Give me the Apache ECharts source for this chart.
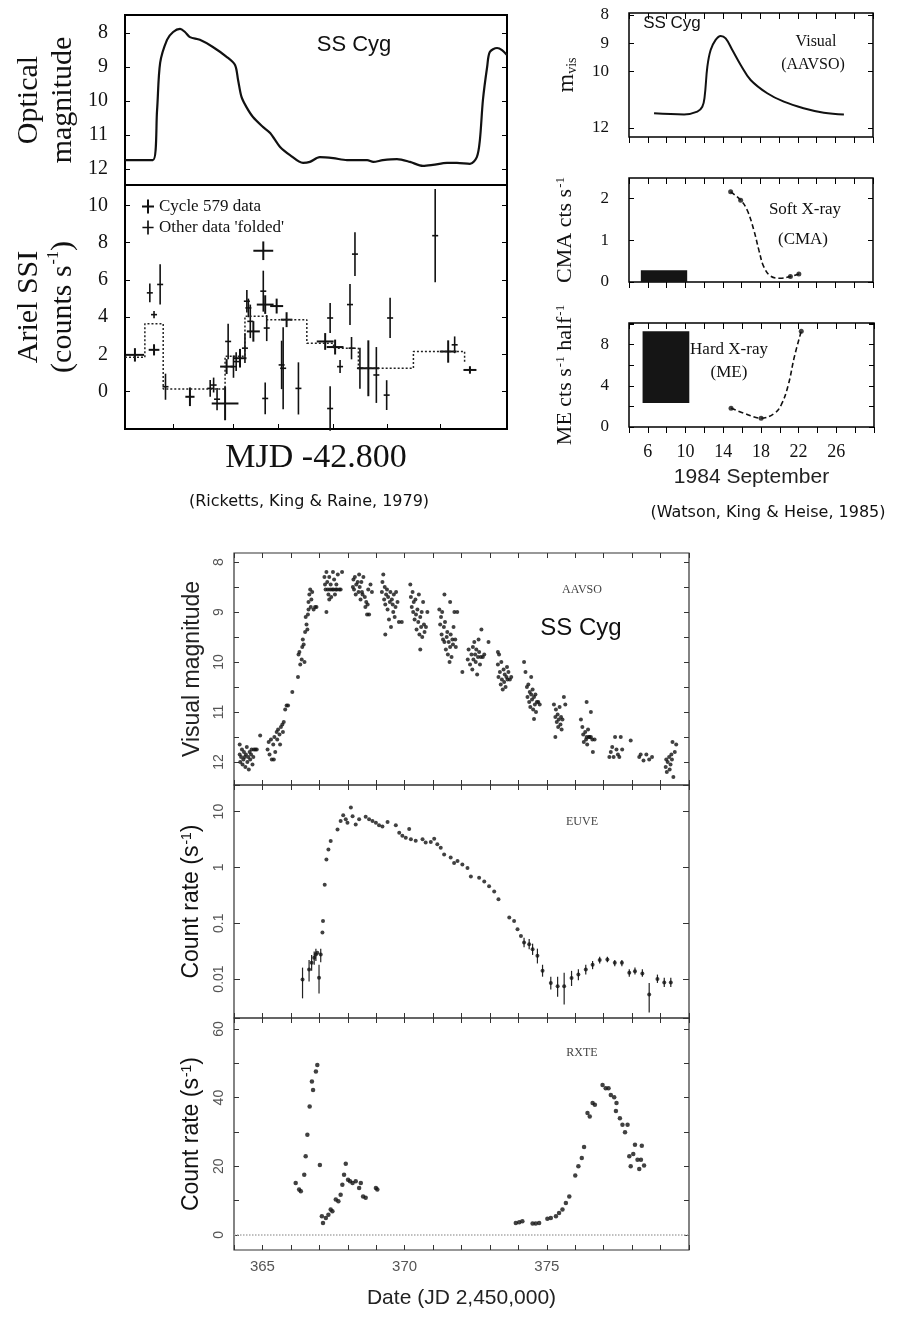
<!DOCTYPE html>
<html>
<head>
<meta charset="utf-8">
<script src="https://cdn.jsdelivr.net/npm/echarts@6/dist/echarts.min.js"></script>
<style>
html, body { margin: 0; padding: 0; background: #fff; }
#chart { width: 914px; height: 1318px; }
</style>
</head>
<body>
<div id="chart"></div>
<script>
const SERIF = "'Liberation Serif','DejaVu Serif',serif"
const SANS = "'Liberation Sans',Arial,sans-serif"
const HAND = "'DejaVu Sans',sans-serif"

// ---- Ricketts, King & Raine (1979): x in arbitrary phase units 0..100 ----
const opticalCurve = [
  [0, 11.74], [7.3, 11.74], [8.4, 10.26], [9.2, 8.88], [11, 8.2], [12.6, 7.97], [14.4, 7.88],
  [15.7, 7.97], [17, 8.12], [19.6, 8.2], [23, 8.41], [26.6, 8.7], [28.8, 8.94], [29.6, 9.38],
  [30.5, 9.88], [31.8, 10.18], [33.5, 10.47], [36.1, 10.76], [38, 10.94], [40.6, 11.35],
  [43.2, 11.59], [46.6, 11.82], [48.4, 11.79], [51, 11.65], [54.5, 11.68], [58.1, 11.74],
  [63.4, 11.74], [65, 11.79], [67.5, 11.74], [71.2, 11.71], [74.6, 11.79], [78, 11.91],
  [80.6, 11.88], [84.3, 11.82], [86.9, 11.82], [90.3, 11.85], [92.1, 11.65], [92.9, 11.15],
  [93.7, 9.97], [94.8, 9.0], [95.5, 8.56], [97.4, 8.44], [98.7, 8.5], [100, 8.65]
]
const optLabels = [8, 9, 10, 11, 12]

const arielStep = [
  [0, 1.85], [5.2, 3.65], [10, 0.15], [26.2, 1.9], [31.4, 4.05], [37.1, 3.87],
  [47.6, 2.61], [54.6, 2.34], [61.1, 1.26], [75.5, 2.16], [88.9, 1.6]
]
// [x, y, xerr, yerr]
const arielCycle = [
  [2.6, 1.98, 2.4, 0.36], [7.6, 2.25, 1.4, 0.3], [17.0, -0.27, 1.2, 0.5], [26.2, -0.63, 3.5, 0.9],
  [26.6, 1.35, 1.7, 0.4], [30.1, 1.8, 1.7, 0.5], [33.6, 3.24, 1.7, 0.55], [36.2, 7.57, 2.6, 0.5],
  [36.7, 4.68, 2.2, 0.5], [39.7, 4.6, 1.7, 0.4], [42.3, 3.87, 1.5, 0.4], [52.4, 2.7, 2.2, 0.45],
  [55.0, 2.4, 2.2, 0.4], [63.7, 1.26, 2.8, 1.5], [84.6, 2.16, 2.2, 0.6], [90.3, 1.17, 1.7, 0.2]
]
// [x, y, yerr]
const arielFolded = [
  [6.5, 5.31, 0.5], [7.6, 4.14, 0.2], [9.2, 5.76, 1.08], [10.6, 0.27, 0.7], [22.3, 0.18, 0.45],
  [23.2, 0.36, 0.4], [24.1, -0.4, 0.6], [27.0, 2.7, 0.95], [28.4, 1.35, 0.6], [29.1, 1.62, 0.5],
  [31.4, 2.34, 0.8], [31.9, 4.86, 0.6], [32.3, 4.5, 0.5], [32.8, 3.78, 0.9], [36.2, 5.4, 1.1],
  [37.1, 3.42, 0.7], [36.7, -0.36, 0.85], [41.4, 1.26, 2.2], [41.0, 1.44, 1.3], [45.4, 0.18, 1.4],
  [53.7, 3.96, 0.8], [53.7, -0.9, 1.2], [56.3, 1.35, 0.35], [58.9, 4.68, 1.1], [59.3, 2.34, 0.6],
  [60.2, 7.39, 1.17], [61.5, 1.26, 1.1], [65.8, 0.9, 1.5], [68.5, -0.18, 0.8], [69.4, 3.96, 1.08],
  [81.2, 8.38, 2.5], [86.3, 2.52, 0.45]
]
const arielLabels = [0, 2, 4, 6, 8, 10]
const arielXTicks = [12.6, 28.3, 40.1, 54.5, 68.6, 82.5]

// ---- Watson, King & Heise (1985): x = day of 1984 September ----
const visualCurve = [
  [6.67, 11.48], [9.87, 11.52], [11.28, 11.42], [11.81, 11.25], [12.06, 10.89], [12.35, 9.83],
  [12.7, 9.24], [13.23, 8.88], [13.77, 8.74], [14.3, 8.83], [15.01, 9.24], [15.9, 9.77],
  [16.96, 10.3], [18.73, 10.77], [20.5, 11.07], [22.6, 11.3], [24.76, 11.46], [26.9, 11.52]
]
const visLabels = [8, 9, 10, 12]
const cmaBlock = [[5.26, 10.2, 0, 0.28]]   // [x0, x1, y0, y1]
const cmaCurve = [
  [14.83, 2.15], [15.9, 1.95], [16.6, 1.71], [17.3, 1.24], [17.84, 0.76], [18.37, 0.36],
  [19.1, 0.14], [20.1, 0.09], [21.2, 0.13], [22.1, 0.19]
]
const cmaDots = [[14.83, 2.15], [15.9, 1.95], [21.2, 0.13], [22.1, 0.19]]
const cmaLabels = [0, 1, 2]
const meBlock = [[5.44, 10.4, 2.34, 9.3]]
const meCurve = [
  [14.83, 1.82], [16.25, 1.33], [18.02, 0.85], [19.44, 1.33], [20.15, 2.15], [20.86, 3.93],
  [21.56, 6.86], [22.28, 9.3]
]
const meDots = [[14.83, 1.82], [18.02, 0.85], [22.28, 9.3]]
const meLabels = [0, 4, 8]
const sepLabels = [6, 10, 14, 18, 22, 26]

// ---- AAVSO / EUVE / RXTE: x = JD - 2,450,000 ----
const aavso = [
  [364.20, 11.85], [364.22, 12.0], [364.25, 11.9], [364.28, 11.75], [364.30, 12.05], [364.33, 11.95],
  [364.35, 11.8], [364.38, 11.9], [364.40, 12.1], [364.42, 11.85], [364.45, 11.7], [364.47, 12.0],
  [364.50, 11.9], [364.52, 12.15], [364.55, 11.8], [364.57, 11.95], [364.60, 11.85], [364.62, 11.75],
  [364.65, 12.05], [364.68, 11.9], [364.70, 11.75], [364.75, 11.75], [364.80, 11.75], [364.20, 11.65],
  [364.92, 11.47],
  [365.18, 11.75], [365.22, 11.6], [365.25, 11.85], [365.30, 11.55], [365.33, 11.95], [365.38, 11.65],
  [365.42, 11.5], [365.45, 11.8], [365.50, 11.4], [365.52, 11.55], [365.55, 11.35], [365.60, 11.45],
  [365.62, 11.65], [365.65, 11.3], [365.70, 11.25], [365.72, 11.4], [365.75, 11.2], [365.40, 11.95],
  [365.80, 10.95], [365.85, 10.87], [365.90, 10.87], [366.05, 10.6],
  [366.25, 10.3], [366.27, 9.85], [366.30, 9.8], [366.33, 10.05], [366.38, 9.95], [366.40, 9.7],
  [366.42, 9.55], [366.45, 9.65], [366.48, 10.0], [366.50, 9.4], [366.52, 9.1], [366.55, 9.25],
  [366.58, 9.35], [366.60, 9.05], [366.62, 8.95],
  [366.62, 8.8], [366.65, 8.65], [366.68, 8.55], [366.70, 8.9], [366.72, 8.75], [366.75, 8.6],
  [366.80, 8.95], [366.85, 8.9], [366.90, 8.9],
  [367.18, 8.3], [367.20, 8.45], [367.22, 8.55], [367.25, 8.2], [367.28, 8.4], [367.30, 8.55],
  [367.32, 8.65], [367.35, 8.3], [367.38, 8.55], [367.40, 8.45], [367.42, 8.7], [367.45, 8.55],
  [367.48, 8.2], [367.50, 8.55], [367.52, 8.35], [367.55, 8.65], [367.58, 8.55], [367.60, 8.45],
  [367.62, 8.55], [367.65, 8.25], [367.70, 8.55], [367.75, 8.55], [367.80, 8.2], [367.25, 9.0],
  [367.35, 8.75],
  [368.18, 8.5], [368.20, 8.35], [368.22, 8.55], [368.25, 8.3], [368.28, 8.65], [368.30, 8.45],
  [368.35, 8.4], [368.38, 8.6], [368.40, 8.25], [368.42, 8.5], [368.45, 8.75], [368.48, 8.4],
  [368.50, 8.6], [368.52, 8.65], [368.55, 8.3], [368.60, 8.7], [368.62, 8.9], [368.65, 8.8],
  [368.68, 9.05], [368.70, 8.85], [368.72, 8.55], [368.75, 9.05], [368.80, 8.45], [368.85, 8.6],
  [369.20, 8.6], [369.22, 8.4], [369.25, 8.25], [369.28, 8.75], [369.30, 8.5], [369.32, 8.85],
  [369.35, 8.65], [369.38, 8.55], [369.40, 8.95], [369.42, 8.7], [369.45, 9.15], [369.48, 8.8],
  [369.50, 8.6], [369.52, 9.3], [369.55, 8.75], [369.58, 8.85], [369.60, 9.0], [369.62, 8.65],
  [369.65, 9.1], [369.68, 8.9], [369.70, 8.6], [369.75, 8.8], [369.80, 9.2], [369.90, 9.2],
  [369.32, 9.45],
  [370.20, 8.45], [370.22, 8.7], [370.25, 8.9], [370.28, 8.6], [370.30, 9.0], [370.32, 8.8],
  [370.35, 9.15], [370.38, 8.75], [370.40, 9.05], [370.42, 9.35], [370.45, 8.95], [370.48, 9.2],
  [370.50, 8.65], [370.52, 9.45], [370.55, 9.1], [370.58, 9.3], [370.60, 9.0], [370.62, 9.5],
  [370.65, 8.8], [370.68, 9.25], [370.70, 9.4], [370.75, 9.3], [370.55, 9.75], [370.80, 9.0],
  [371.22, 8.95], [371.25, 9.25], [371.28, 9.1], [371.30, 9.45], [371.32, 9.0], [371.35, 9.55],
  [371.38, 9.3], [371.40, 9.6], [371.42, 9.2], [371.45, 9.75], [371.48, 9.5], [371.50, 9.4],
  [371.52, 9.85], [371.55, 9.6], [371.58, 10.0], [371.60, 9.7], [371.62, 9.45], [371.65, 9.9],
  [371.68, 9.55], [371.70, 9.65], [371.72, 9.3], [371.75, 9.0], [371.78, 9.55], [371.80, 9.7],
  [371.85, 9.0], [371.40, 8.65], [371.60, 8.8], [372.03, 10.2],
  [372.22, 9.95], [372.25, 9.75], [372.30, 10.05], [372.35, 9.85], [372.38, 10.15], [372.40, 9.7],
  [372.42, 9.95], [372.45, 9.6], [372.48, 9.85], [372.50, 10.0], [372.52, 9.75], [372.55, 10.25],
  [372.58, 9.9], [372.60, 9.55], [372.62, 9.8], [372.65, 10.05], [372.68, 9.9], [372.70, 9.35],
  [372.75, 9.9], [372.80, 9.85], [372.95, 9.6],
  [373.28, 10.05], [373.30, 10.3], [373.32, 9.85], [373.35, 10.2], [373.38, 10.45], [373.40, 10.0],
  [373.42, 10.35], [373.45, 10.55], [373.48, 10.15], [373.50, 10.4], [373.52, 10.25], [373.55, 10.5],
  [373.58, 10.3], [373.60, 10.1], [373.62, 10.35], [373.65, 10.2], [373.70, 10.35], [373.75, 10.3],
  [373.28, 9.8],
  [374.20, 10.0], [374.25, 10.2], [374.30, 10.5], [374.32, 10.7], [374.35, 10.45], [374.38, 10.8],
  [374.40, 10.6], [374.42, 10.9], [374.45, 10.65], [374.48, 10.75], [374.50, 10.55], [374.52, 10.95],
  [374.55, 10.7], [374.58, 10.85], [374.60, 10.65], [374.62, 11.0], [374.65, 10.8], [374.70, 10.8],
  [374.75, 10.85], [374.55, 11.14], [374.45, 10.3],
  [375.25, 10.85], [375.30, 11.1], [375.32, 10.95], [375.35, 11.2], [375.38, 11.05], [375.40, 11.3],
  [375.42, 11.15], [375.45, 10.9], [375.48, 11.25], [375.50, 11.1], [375.52, 11.35], [375.55, 11.15],
  [375.60, 10.7], [375.65, 10.85], [375.30, 11.5],
  [376.20, 11.15], [376.25, 11.3], [376.28, 11.45], [376.30, 11.6], [376.35, 11.4], [376.38, 11.55],
  [376.40, 11.5], [376.42, 11.65], [376.45, 11.35], [376.48, 11.5], [376.50, 11.5], [376.55, 11.5],
  [376.60, 11.55], [376.62, 11.8], [376.68, 11.55], [376.40, 10.8], [376.55, 11.0],
  [377.20, 11.9], [377.25, 11.8], [377.30, 11.7], [377.35, 11.9], [377.40, 11.5], [377.45, 11.75],
  [377.50, 11.85], [377.55, 11.9], [377.60, 11.5], [377.65, 11.75],
  [377.95, 11.57], [378.25, 11.9], [378.30, 11.85], [378.40, 11.97], [378.50, 11.85], [378.60, 11.95],
  [378.70, 11.9],
  [379.18, 12.1], [379.20, 11.95], [379.22, 12.2], [379.25, 12.0], [379.30, 11.9], [379.32, 12.15],
  [379.35, 12.05], [379.38, 11.85], [379.40, 11.95], [379.42, 11.6], [379.45, 12.3], [379.50, 11.8],
  [379.55, 11.65]
]
const aavsoLabels = [8, 9, 10, 11, 12]
const aavsoTicks = [8, 8.5, 9, 9.5, 10, 10.5, 11, 11.5, 12]

const euve = [
  [366.41, 0.0098], [366.64, 0.0148], [366.73, 0.0195], [366.82, 0.024], [366.88, 0.0275],
  [366.93, 0.0295], [366.99, 0.0105], [367.05, 0.0275], [367.11, 0.068], [367.13, 0.11],
  [367.19, 0.49], [367.25, 1.38], [367.32, 2.1], [367.4, 2.96], [367.64, 4.8], [367.75, 6.8],
  [367.84, 8.6], [367.93, 7.3], [367.99, 6.3], [368.11, 11.8], [368.17, 8.3], [368.28, 5.9],
  [368.4, 7.3], [368.63, 8.1], [368.75, 7.3], [368.87, 6.8], [368.99, 6.3], [369.1, 5.7],
  [369.22, 5.4], [369.4, 6.5], [369.69, 5.7], [369.81, 4.2], [369.92, 3.7], [370.04, 3.4],
  [370.16, 4.9], [370.22, 3.2], [370.39, 3.0], [370.63, 3.2], [370.74, 2.8], [370.92, 2.85],
  [371.04, 3.25], [371.15, 2.6], [371.27, 2.25], [371.39, 1.7], [371.62, 1.5], [371.74, 1.2],
  [371.86, 1.3], [372.03, 1.13], [372.21, 0.98], [372.33, 0.69], [372.62, 0.65], [372.8, 0.56],
  [372.97, 0.46], [373.15, 0.37], [373.3, 0.27], [373.68, 0.126], [373.85, 0.11], [373.97, 0.078],
  [374.09, 0.059], [374.2, 0.045], [374.38, 0.042], [374.5, 0.034], [374.67, 0.026], [374.85, 0.014],
  [375.14, 0.0085], [375.38, 0.0074], [375.61, 0.0074], [375.87, 0.0104], [376.11, 0.012],
  [376.37, 0.0148], [376.61, 0.018], [376.86, 0.0218], [377.13, 0.0224], [377.39, 0.0195],
  [377.64, 0.0195], [377.9, 0.0129], [378.1, 0.0138], [378.36, 0.0126], [378.6, 0.0053],
  [378.89, 0.01], [379.13, 0.0087], [379.36, 0.0087]
]
// [day, low, high]
const euveBars = [
  [366.41, 0.0045, 0.016], [366.64, 0.009, 0.022], [366.73, 0.014, 0.027], [366.82, 0.018, 0.031],
  [366.88, 0.021, 0.035], [366.99, 0.0055, 0.018], [367.05, 0.02, 0.035], [374.2, 0.037, 0.055],
  [374.38, 0.034, 0.052], [374.5, 0.027, 0.043], [374.67, 0.019, 0.035], [374.85, 0.011, 0.018],
  [375.14, 0.0065, 0.011], [375.38, 0.0048, 0.011], [375.61, 0.0035, 0.013], [375.87, 0.0075, 0.014],
  [376.11, 0.0095, 0.015], [376.37, 0.012, 0.018], [376.61, 0.015, 0.021], [376.86, 0.019, 0.025],
  [377.13, 0.02, 0.025], [377.39, 0.017, 0.022], [377.64, 0.017, 0.022], [377.9, 0.011, 0.015],
  [378.1, 0.012, 0.016], [378.36, 0.011, 0.015], [378.6, 0.0025, 0.0085], [378.89, 0.0085, 0.012],
  [379.13, 0.0072, 0.0105], [379.36, 0.0072, 0.0105]
]

const rxte = [
  [366.17, 15.1], [366.29, 13.2], [366.35, 12.7], [366.47, 17.5], [366.52, 22.9], [366.58, 29.2],
  [366.66, 37.4], [366.74, 44.7], [366.78, 42.2], [366.88, 47.6], [366.93, 49.5], [367.02, 20.4],
  [367.09, 5.4], [367.13, 3.5], [367.23, 4.9], [367.32, 5.9], [367.4, 7.4], [367.46, 6.9],
  [367.58, 10.3], [367.67, 9.8], [367.75, 11.7], [367.81, 14.6], [367.87, 17.5], [367.93, 20.7],
  [368.01, 16.1], [368.08, 15.6], [368.17, 15.1], [368.28, 15.6], [368.4, 13.7], [368.46, 15.1],
  [368.54, 11.2], [368.63, 10.8], [368.99, 13.7], [369.04, 13.2],
  [373.91, 3.5], [374.03, 3.7], [374.14, 4.0], [374.5, 3.3], [374.61, 3.3], [374.73, 3.5],
  [375.02, 4.7], [375.14, 4.9], [375.32, 5.4], [375.43, 6.4], [375.55, 7.4], [375.67, 9.3],
  [375.79, 11.2], [376.0, 17.3], [376.11, 20.0], [376.23, 22.4], [376.31, 25.6], [376.43, 35.5],
  [376.51, 34.5], [376.61, 38.4], [376.69, 37.9], [376.96, 43.7], [377.07, 42.7], [377.17, 42.7],
  [377.25, 40.8], [377.37, 40.1], [377.45, 38.4], [377.43, 36.1], [377.57, 34.0], [377.66, 32.1],
  [377.75, 29.9], [377.84, 32.1], [377.9, 22.9], [377.95, 20.0], [378.04, 23.6], [378.1, 26.3],
  [378.19, 21.9], [378.25, 19.2], [378.31, 21.9], [378.34, 26.0], [378.42, 20.2]
]
const rxteLabels = [0, 20, 40, 60]
const rxteTicks = [0, 10, 20, 30, 40, 50, 60]
const jdLabels = [365, 370, 375]

// ---- layout ----
const grids = [
  { left: 125, top: 15, width: 382, height: 170, borderWidth: 2, borderColor: '#000' },
  { left: 125, top: 185, width: 382, height: 244, borderWidth: 2, borderColor: '#000' },
  { left: 629, top: 13, width: 244, height: 124, borderWidth: 1.5, borderColor: '#000' },
  { left: 629, top: 178, width: 244, height: 104, borderWidth: 1.5, borderColor: '#000' },
  { left: 629, top: 323, width: 245, height: 104, borderWidth: 1.5, borderColor: '#000' },
  { left: 234, top: 553, width: 455, height: 232, borderWidth: 1.2, borderColor: '#333' },
  { left: 234, top: 785, width: 455, height: 233, borderWidth: 1.2, borderColor: '#333' },
  { left: 234, top: 1018, width: 455, height: 232, borderWidth: 1.2, borderColor: '#333' }
].map(g => Object.assign({ show: true, backgroundColor: 'transparent', containLabel: false, outerBoundsMode: 'none' }, g))

function mkAxis(gi, position, o, mirror) {
  const a = {
    type: o.type || 'value', gridIndex: gi, position: position,
    min: o.min, max: o.max, inverse: !!o.inverse,
    axisLine: { show: false, onZero: false },
    splitLine: { show: false },
    axisTick: {
      show: !!o.tickLen,
      inside: mirror ? true : o.inside !== false,
      length: o.tickLen || 0,
      lineStyle: { color: o.color || '#000', width: 1 }
    },
    axisLabel: { show: !mirror && !!o.label }
  }
  if (o.interval != null) a.interval = o.interval
  if (o.ticks) a.axisTick.customValues = o.ticks
  if (!mirror && o.label) Object.assign(a.axisLabel, o.label)
  if (!mirror && o.name) {
    a.name = o.name
    a.nameLocation = 'middle'
    a.nameGap = o.nameGap
    a.nameTextStyle = o.nameStyle
    if (o.nameRotate != null) a.nameRotate = o.nameRotate
  }
  return a
}

const xAxes = [], yAxes = []
function addX(gi, o) {
  const i = xAxes.length
  xAxes.push(mkAxis(gi, 'bottom', o, false))
  if (o.mirror !== false) xAxes.push(mkAxis(gi, 'top', o, true))
  return i
}
function addY(gi, o) {
  const i = yAxes.length
  yAxes.push(mkAxis(gi, 'left', o, false))
  if (o.mirror !== false) yAxes.push(mkAxis(gi, 'right', o, true))
  return i
}

const supRich = (font, size, supSize) => ({
  t: { fontFamily: font, fontSize: size, color: '#111' },
  s: { fontFamily: font, fontSize: supSize, color: '#111', verticalAlign: 'top', padding: [0, 0, size * 0.45, 1] },
  b: { fontFamily: font, fontSize: supSize, color: '#111', verticalAlign: 'bottom' }
})

const tlLabel = { fontFamily: SERIF, fontSize: 20, color: '#111', margin: 17 }
const trLabel = { fontFamily: SERIF, fontSize: 17, color: '#111', margin: 20 }
const bYLabel = { fontFamily: SANS, fontSize: 14, color: '#555', rotate: 90, margin: 8 }
const bXLabel = { fontFamily: SANS, fontSize: 15, color: '#555', margin: 9 }

// top-left
const x0 = addX(0, { min: 0, max: 100, mirror: false })
const y0 = addY(0, {
  min: 7.47, max: 12.47, inverse: true, tickLen: 5, ticks: optLabels,
  label: Object.assign({ customValues: optLabels }, tlLabel),
  name: 'Optical\nmagnitude', nameGap: 45, nameRotate: 90,
  nameStyle: { fontFamily: SERIF, fontSize: 30, color: '#111', lineHeight: 34 }
})
const x1 = addX(1, {
  min: 0, max: 100, mirror: false, tickLen: 5, ticks: arielXTicks,
  name: 'MJD -42.800', nameGap: 12,
  nameStyle: { fontFamily: SERIF, fontSize: 34, color: '#111' }
})
const y1 = addY(1, {
  min: -2, max: 11.1, tickLen: 5, ticks: arielLabels,
  label: Object.assign({ customValues: arielLabels }, tlLabel),
  name: '{t|Ariel SSI}\n{t|(counts s}{s|-1}{t|)}', nameGap: 45, nameRotate: 90,
  nameStyle: { lineHeight: 34, rich: supRich(SERIF, 30, 16) }
})

// top-right
const sepAxis = { min: 4, max: 30, interval: 2, tickLen: 6, inside: false }
const x2 = addX(2, sepAxis)
const y2 = addY(2, {
  min: 7.93, max: 12.32, inverse: true, tickLen: 5, ticks: visLabels,
  label: Object.assign({ customValues: visLabels }, trLabel),
  name: '{t|m}{b|vis}', nameGap: 50, nameRotate: 90,
  nameStyle: { rich: supRich(SERIF, 24, 14) }
})
const x3 = addX(3, sepAxis)
const y3 = addY(3, {
  min: 0, max: 2.48, tickLen: 5, ticks: cmaLabels,
  label: Object.assign({ customValues: cmaLabels }, trLabel),
  name: '{t|CMA cts s}{s|-1}', nameGap: 52, nameRotate: 90,
  nameStyle: { rich: supRich(SERIF, 22, 13) }
})
const x4 = addX(4, Object.assign({}, sepAxis, {
  label: Object.assign({ customValues: sepLabels }, trLabel, { margin: 16, fontSize: 18 }),
  name: '1984 September', nameGap: 40,
  nameStyle: { fontFamily: SANS, fontSize: 21, color: '#222' }
}))
const y4 = addY(4, {
  min: 0, max: 10.1, interval: 2, tickLen: 5,
  label: Object.assign({ customValues: meLabels }, trLabel),
  name: '{t|ME cts s}{s|-1}{t| half}{s|-1}', nameGap: 52, nameRotate: 90,
  nameStyle: { rich: supRich(SERIF, 22, 13) }
})

// bottom figure
const jdAxis = { min: 364, max: 380, interval: 1, tickLen: 5, color: '#333' }
const x5 = addX(5, jdAxis)
const y5 = addY(5, {
  min: 7.82, max: 12.46, inverse: true, tickLen: 5, color: '#333', ticks: aavsoTicks,
  label: Object.assign({ customValues: aavsoLabels }, bYLabel),
  name: 'Visual magnitude', nameGap: 30, nameRotate: 90,
  nameStyle: { fontFamily: SANS, fontSize: 23, color: '#222' }
})
const x6 = addX(6, jdAxis)
const y6 = addY(6, {
  type: 'log', min: 0.002, max: 30, tickLen: 6, color: '#333',
  label: Object.assign({
    formatter: v => {
      const l = Math.log10(v)
      return Math.abs(l - Math.round(l)) < 1e-6 ? String(+v.toPrecision(1)) : ''
    }
  }, bYLabel),
  name: '{t|Count rate (s}{s|-1}{t|)}', nameGap: 30, nameRotate: 90,
  nameStyle: { rich: supRich(SANS, 23, 14) }
})
const x7 = addX(7, Object.assign({}, jdAxis, {
  label: Object.assign({ customValues: jdLabels }, bXLabel),
  name: 'Date (JD 2,450,000)', nameGap: 38,
  nameStyle: { fontFamily: SANS, fontSize: 21, color: '#222' }
}))
const y7 = addY(7, {
  min: -4.4, max: 63.2, tickLen: 5, color: '#333', ticks: rxteTicks,
  label: Object.assign({ customValues: rxteLabels }, bYLabel),
  name: '{t|Count rate (s}{s|-1}{t|)}', nameGap: 30, nameRotate: 90,
  nameStyle: { rich: supRich(SANS, 23, 14) }
})

// ---- renderers ----
function crossRender(width, withX) {
  return function (params, api) {
    const x = api.value(0), y = api.value(1)
    const xe = withX ? api.value(2) : 0
    const ye = withX ? api.value(3) : api.value(2)
    const c = api.coord([x, y])
    const lo = api.coord([x, y - ye]), hi = api.coord([x, y + ye])
    const l = withX ? api.coord([x - xe, y])[0] : c[0] - 3
    const r = withX ? api.coord([x + xe, y])[0] : c[0] + 3
    const style = { stroke: '#111', lineWidth: width }
    return {
      type: 'group',
      children: [
        { type: 'line', shape: { x1: c[0], y1: lo[1], x2: c[0], y2: hi[1] }, style },
        { type: 'line', shape: { x1: l, y1: c[1], x2: r, y2: c[1] }, style }
      ]
    }
  }
}

function blockRender(params, api) {
  const p0 = api.coord([api.value(0), api.value(3)])
  const p1 = api.coord([api.value(1), api.value(2)])
  return {
    type: 'rect',
    shape: { x: p0[0], y: p0[1], width: p1[0] - p0[0], height: p1[1] - p0[1] },
    style: { fill: '#151515' }
  }
}

function barRender(params, api) {
  const a = api.coord([api.value(0), api.value(1)])
  const b = api.coord([api.value(0), api.value(2)])
  return { type: 'line', shape: { x1: a[0], y1: a[1], x2: b[0], y2: b[1] }, style: { stroke: '#222', lineWidth: 1.2 } }
}

const dot = (xi, yi, data, size) => ({
  type: 'scatter', xAxisIndex: xi, yAxisIndex: yi, data: data,
  symbol: 'circle', symbolSize: size, itemStyle: { color: '#111' }, silent: true
})

const series = [
  {
    type: 'line', xAxisIndex: x0, yAxisIndex: y0, data: opticalCurve, smooth: 0.3,
    showSymbol: false, lineStyle: { color: '#111', width: 2.2 }
  },
  {
    type: 'line', xAxisIndex: x1, yAxisIndex: y1, data: arielStep, step: 'end',
    showSymbol: false, lineStyle: { color: '#222', width: 1.5, type: [2, 2] }
  },
  {
    name: 'Cycle 579 data', type: 'custom', xAxisIndex: x1, yAxisIndex: y1, data: arielCycle,
    encode: { x: 0, y: 1 }, renderItem: crossRender(2, true), itemStyle: { color: '#111' }
  },
  {
    name: "Other data 'folded'", type: 'custom', xAxisIndex: x1, yAxisIndex: y1, data: arielFolded,
    encode: { x: 0, y: 1 }, renderItem: crossRender(1.6, false), itemStyle: { color: '#111' }
  },
  {
    type: 'line', xAxisIndex: x2, yAxisIndex: y2, data: visualCurve, smooth: 0.4,
    showSymbol: false, lineStyle: { color: '#111', width: 2 }
  },
  {
    type: 'custom', xAxisIndex: x3, yAxisIndex: y3, data: cmaBlock,
    encode: { x: [0, 1], y: [2, 3] }, renderItem: blockRender
  },
  {
    type: 'line', xAxisIndex: x3, yAxisIndex: y3, data: cmaCurve, smooth: 0.4,
    showSymbol: false, lineStyle: { color: '#111', width: 1.6, type: [5, 3] }
  },
  dot(x3, y3, cmaDots, 5),
  {
    type: 'custom', xAxisIndex: x4, yAxisIndex: y4, data: meBlock,
    encode: { x: [0, 1], y: [2, 3] }, renderItem: blockRender
  },
  {
    type: 'line', xAxisIndex: x4, yAxisIndex: y4, data: meCurve, smooth: 0.4,
    showSymbol: false, lineStyle: { color: '#111', width: 1.6, type: [5, 3] }
  },
  dot(x4, y4, meDots, 5),
  dot(x5, y5, aavso, 4),
  {
    type: 'custom', xAxisIndex: x6, yAxisIndex: y6, data: euveBars,
    encode: { x: 0, y: [1, 2] }, renderItem: barRender
  },
  dot(x6, y6, euve, 4),
  Object.assign(dot(x7, y7, rxte, 4.5), {
    markLine: {
      silent: true, symbol: 'none', label: { show: false },
      lineStyle: { color: '#aaa', type: 'dotted', width: 1.5 },
      data: [{ yAxis: 0 }]
    }
  })
]

const txt = (x, y, text, font, color) => ({
  type: 'text', x: x, y: y, silent: true,
  style: { text: text, font: font, fill: color || '#111', align: 'center', verticalAlign: 'middle' }
})

const graphic = [
  txt(354, 45, 'SS Cyg', '22px ' + SANS),
  txt(309, 502, '(Ricketts, King & Raine, 1979)', '16px ' + HAND),
  txt(672, 23, 'SS Cyg', '17px ' + SANS),
  txt(816, 42, 'Visual', '16px ' + SERIF),
  txt(813, 65, '(AAVSO)', '16px ' + SERIF),
  txt(805, 210, 'Soft X-ray', '17px ' + SERIF),
  txt(803, 240, '(CMA)', '17px ' + SERIF),
  txt(729, 350, 'Hard X-ray', '17px ' + SERIF),
  txt(729, 373, '(ME)', '17px ' + SERIF),
  txt(768, 513, '(Watson, King & Heise, 1985)', '16px ' + HAND),
  txt(582, 590, 'AAVSO', '12px ' + SERIF, '#444'),
  txt(581, 628, 'SS Cyg', '24px ' + SANS),
  txt(582, 822, 'EUVE', '12px ' + SERIF, '#444'),
  txt(582, 1053, 'RXTE', '12px ' + SERIF, '#444')
]

const option = {
  animation: false,
  backgroundColor: '#fff',
  textStyle: { fontFamily: SANS },
  grid: grids,
  xAxis: xAxes,
  yAxis: yAxes,
  legend: {
    left: 137, top: 193, orient: 'vertical', itemGap: 4, itemWidth: 12, itemHeight: 14,
    selectedMode: false,
    textStyle: { fontFamily: SERIF, fontSize: 17, color: '#111' },
    data: [
      { name: 'Cycle 579 data', icon: 'path://M5,0H7V6H12V8H7V14H5V8H0V6H5Z' },
      { name: "Other data 'folded'", icon: 'path://M5.4,2H6.6V6.4H10V7.6H6.6V12H5.4V7.6H2V6.4H5.4Z' }
    ]
  },
  graphic: graphic,
  series: series
}

const chart = echarts.init(document.getElementById('chart'), null, { renderer: 'canvas' })
chart.setOption(option)
</script>
</body>
</html>
